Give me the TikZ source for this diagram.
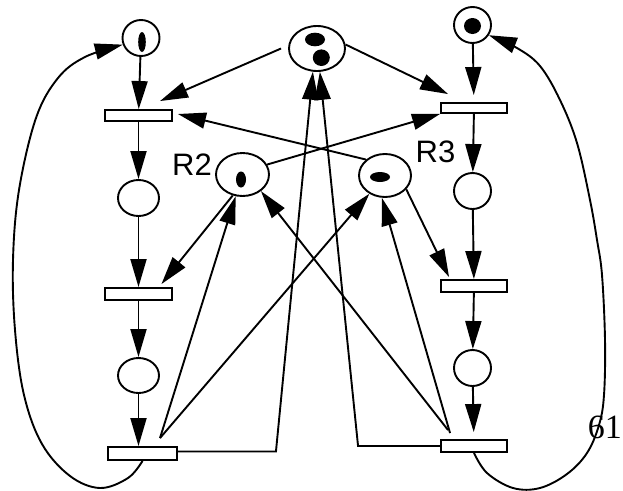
\documentclass[tikz,border=0pt]{standalone}
\usepackage{fontspec}
\setmainfont{Liberation Serif}
\newfontfamily\arialf{Liberation Sans}
\usetikzlibrary{shapes.geometric,arrows.meta,calc}
\begin{document}
\begin{tikzpicture}[x=1pt,y=-1pt,
  lw/.style={line width=1.9pt},
  place/.style={draw, ellipse, lw, inner sep=0pt, fill=white},
  trans/.style={draw, rectangle, lw, inner sep=0pt, fill=white},
  arr/.style={lw, -{Triangle[length=28pt,width=16pt]}},
  lbl/.style={font=\arialf\fontsize{31}{31}\selectfont, inner sep=0pt}]
\useasboundingbox[fill=white] (0,0) rectangle (623,490);

% places
\node[place, minimum width=37pt, minimum height=36pt] (P1) at (141,38) {};
\node[place, minimum width=37pt, minimum height=36pt] (P4) at (472.5,25) {};
\node[place, minimum width=56pt, minimum height=45pt] (C) at (317,48.5) {};
\node[place, minimum width=53pt, minimum height=43pt] (R2) at (242.5,174.5) {};
\node[place, minimum width=52pt, minimum height=43pt] (R3) at (385,175.5) {};
\node[place, minimum width=41pt, minimum height=36pt] (P2) at (138.5,198) {};
\node[place, minimum width=41pt, minimum height=35pt] (P3) at (138.5,375.5) {};
\node[place, minimum width=37pt, minimum height=36pt] (P5) at (472.5,191) {};
\node[place, minimum width=37pt, minimum height=36pt] (P6) at (472.5,368) {};

% transitions
\node[trans, minimum width=67pt, minimum height=11pt] (T1) at (138.5,115.5) {};
\node[trans, minimum width=67pt, minimum height=12pt] (T2) at (138.5,294) {};
\node[trans, minimum width=69pt, minimum height=13pt] (T3) at (142.5,453.5) {};
\node[trans, minimum width=66pt, minimum height=10pt] (T4) at (474,108) {};
\node[trans, minimum width=66pt, minimum height=12pt] (T5) at (474,286) {};
\node[trans, minimum width=66pt, minimum height=12pt] (T6) at (474,446) {};

% tokens
\fill (142,42) ellipse [x radius=3.8pt, y radius=10pt];
\fill (472.5,26) ellipse [x radius=8.5pt, y radius=8pt];
\fill (315,39.5) ellipse [x radius=10pt, y radius=6.8pt];
\fill (321.3,57.7) ellipse [x radius=8.5pt, y radius=8.3pt];
\fill (241,179.5) ellipse [x radius=5pt, y radius=8pt];
\fill (380,177) ellipse [x radius=10pt, y radius=5pt];

% labels
\node[lbl] (lR2) at (192,165) {R2};
\node[lbl] (lR3) at (435.5,151.5) {R3};
\node[anchor=base east, inner sep=0pt, font=\fontsize{34}{34}\selectfont] (n61) at (622,438) {61};

% column arcs
\draw[arr] (P1) -- (T1);
\draw[arr] (T1) -- (P2);
\draw[arr] (P2) -- (T2);
\draw[arr] (T2) -- (P3);
\draw[arr] (P3) -- (P3 |- T3.north);
\draw[arr, shorten >=7pt] (P4) -- (T4);
\draw[arr] (T4) -- (P5);
\draw[arr] (P5) -- (T5);
\draw[arr] (T5) -- (P6);
\draw[arr, shorten >=7pt] (P6) -- (T6);

% resource arcs
\draw[arr] ($(C.west)+(-7,0)$) -- ($(T1.north)+(21.5,-8)$);
\draw[arr] (C.8) -- ($(T4.north west)+(8,-8)$);
\draw[arr] (R2.22) -- (T4.south west);
\draw[arr] (R3.140) -- ($(T1.east)+(5,-1.5)$);
\draw[arr] (R2.245) -- ($(T2.north east)+(-11.5,-3)$);
\draw[arr] ($(T3.north)+(17.5,-8)$) -- (R2);
\draw[arr] ($(T3.north)+(17.5,-8)$) -- (R3);
\draw[arr] (R3.-33) -- ($(T5.north west)+(9,-2)$);
\draw[arr] ($(T6.north west)+(10,-6)$) -- (R3.262);
\draw[arr] ($(T6.north west)+(8,-9)$) -- (R2.-42);
\draw[arr] ($(T3.east)+(0,-2)$) -- ++(98,0) -- (C.260);
\draw[arr] (T6.west) -- ++(-82,0) -- (C.277);

% loops
\draw[arr] plot[smooth, tension=0.6] coordinates {(T3.south) (128,478) (100,488) (70,476) (42,444) (24,395) (15,330) (13,260) (19,190) (36,118) (58,78) (85,57) (P1.200)};
\draw[arr] plot[smooth, tension=0.6] coordinates {(T6.south) (487,473) (513,488) (540,488) (567,474) (587,453) (599,425) (604,395) (605,340) (602,275) (597,240) (590,200) (577,143) (560,100) (540,66) (517,48) (P4.-32)};
\end{tikzpicture}
\end{document}
